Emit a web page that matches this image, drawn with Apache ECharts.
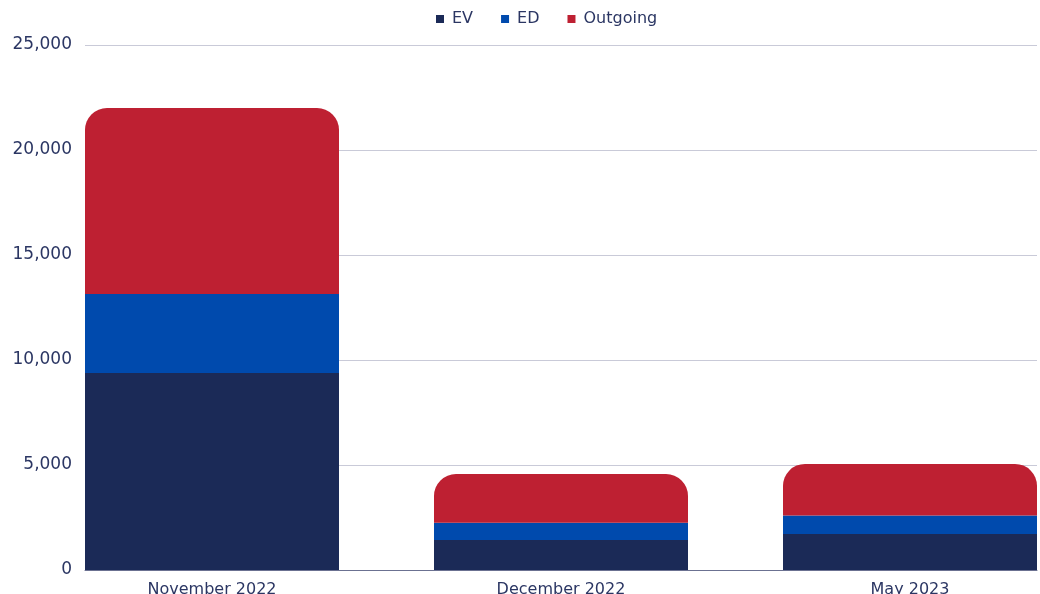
<!DOCTYPE html>
<html>
<head>
<meta charset="utf-8">
<script src="https://cdn.jsdelivr.net/npm/echarts@6/dist/echarts.min.js"></script>
<style>
  html, body { margin: 0; padding: 0; background: #fff; }
  #chart { width: 1040px; height: 594px; }
</style>
</head>
<body>
<div id="chart"></div>
<script>
// categories and values
const categories = ["November 2022", "December 2022", "May 2023"];
const evValues = [9380, 1430, 1710];
const edValues = [3760, 820, 880];
const outgoingValues = [8860, 2320, 2460];
const yMax = 25000;
const yStep = 5000;

const colors = ["#1b2a57", "#004aad", "#be2032"];
const textColor = "#2b3663";
const font = "'DejaVu Sans', sans-serif";

const chart = echarts.init(document.getElementById("chart"));
chart.setOption({
  color: colors,
  animation: false,
  textStyle: { fontFamily: font },
  legend: {
    top: 6,
    left: 431,
    icon: "rect",
    itemWidth: 8,
    itemHeight: 8,
    itemGap: 28,
    textStyle: { color: textColor, fontSize: 16, padding: [0, 0, 0, 3] },
    data: ["EV", "ED", "Outgoing"]
  },
  // grid 0: the frame (gridlines, y labels, baseline)
  // grid 1: the bars, wider so the outer bars touch the frame edges
  grid: [
    { left: 85, right: 3, top: 45, bottom: 24 },
    { left: 37.5, width: 1047, top: 45, bottom: 24, outerBoundsMode: "none" }
  ],
  xAxis: [
    {
      gridIndex: 0,
      type: "value",
      min: 0,
      max: 1,
      splitLine: { show: false },
      axisLine: { show: true, lineStyle: { color: "#6b7191", width: 1 } },
      axisTick: { show: false },
      axisLabel: { show: false }
    },
    {
      gridIndex: 1,
      type: "category",
      data: categories,
      axisLine: { show: false },
      axisTick: { show: false },
      axisLabel: { color: textColor, fontSize: 16, margin: 12 }
    }
  ],
  yAxis: [
    {
      gridIndex: 0,
      type: "value",
      min: 0,
      max: yMax,
      interval: yStep,
      axisLine: { show: false },
      axisTick: { show: false },
      axisLabel: {
        color: textColor,
        fontSize: 17,
        margin: 13,
        padding: [4, 0, 0, 0],
        formatter: v => v.toLocaleString("en-US")
      },
      splitLine: { lineStyle: { color: "#c9cad8", width: 1 } }
    },
    {
      gridIndex: 1,
      type: "value",
      min: 0,
      max: yMax,
      show: false
    }
  ],
  series: [
    {
      name: "EV",
      type: "bar",
      stack: "total",
      xAxisIndex: 1,
      yAxisIndex: 1,
      barWidth: 254,
      data: evValues
    },
    {
      name: "ED",
      type: "bar",
      stack: "total",
      xAxisIndex: 1,
      yAxisIndex: 1,
      barWidth: 254,
      data: edValues
    },
    {
      name: "Outgoing",
      type: "bar",
      stack: "total",
      xAxisIndex: 1,
      yAxisIndex: 1,
      barWidth: 254,
      itemStyle: { borderRadius: [22, 22, 0, 0] },
      data: outgoingValues
    }
  ]
});
</script>
</body>
</html>
